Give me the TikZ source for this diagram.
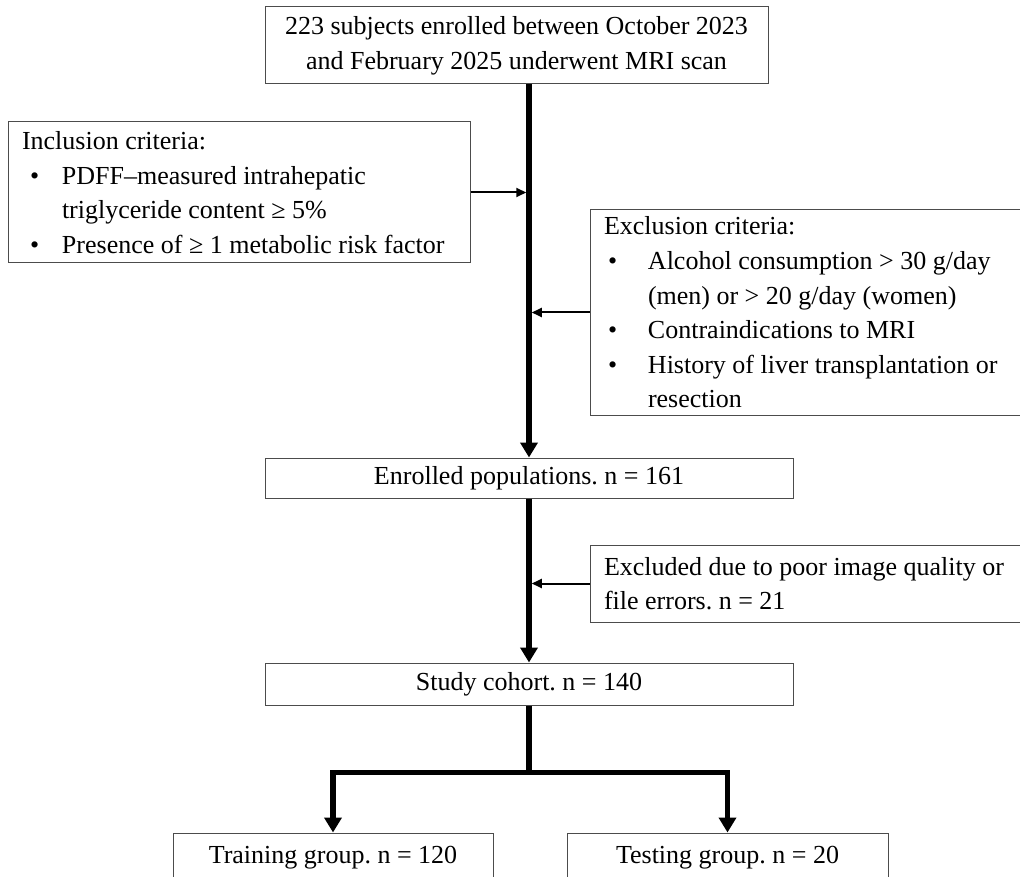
\documentclass[tikz,border=0pt]{standalone}
\usepackage{fontspec}
\setmainfont{Liberation Serif}
\usetikzlibrary{arrows.meta,calc}
\newcommand{\nsp}{\spaceskip=0pt\xspaceskip=0pt\relax}
\begin{document}
\frenchspacing
\begin{tikzpicture}[x=1pt,y=-1pt,
  box/.style={draw=black!70, line width=1pt, rectangle, inner xsep=14pt, inner ysep=0pt,
    font=\fontsize{26}{34.6}\selectfont},
  cbox/.style={box, align=center, inner xsep=2pt},
  lbox/.style={box, align=left},
  mainline/.style={line width=5.5pt, line join=miter},
  mainarrow/.style={mainline, -{Triangle[width=17pt,length=15pt]}},
  thinarrow/.style={line width=2pt, -{Triangle[width=9pt,length=10pt]}}
]
\useasboundingbox (0,0) rectangle (1020,877);
\clip (0,0) rectangle (1020,877);

\node[cbox, minimum width=503pt, minimum height=77pt] (top) at (516.5,45.5)
  {\nsp 223 subjects enrolled between October 2023\\\nsp and February 2025 underwent MRI scan};

\node[lbox, text width=434pt, minimum height=141pt] (inc) at (239,192.5)
  {\nsp Inclusion criteria:\\
   \hspace*{8pt}\makebox[32pt][l]{\textbullet}PDFF–measured intrahepatic\\
   \hspace*{40pt}triglyceride content ≥ 5\%\\
   \hspace*{8pt}\makebox[32pt][l]{\textbullet}Presence of ≥ 1 metabolic risk factor};

\node[lbox, text width=422pt, minimum height=205pt] (exc) at (815,312.5)
  {\nsp Exclusion criteria:\\
   \hspace*{4pt}\makebox[40pt][l]{\textbullet}Alcohol consumption > 30 g/day\\
   \hspace*{44pt}(men) or > 20 g/day (women)\\
   \hspace*{4pt}\makebox[40pt][l]{\textbullet}Contraindications to MRI\\
   \hspace*{4pt}\makebox[40pt][l]{\textbullet}History of liver transplantation or\\
   \hspace*{44pt}resection};

\node[cbox, minimum width=528pt, minimum height=40pt] (enr) at (529,478)
  {\nsp Enrolled populations. n = 161};

\node[lbox, text width=422pt, minimum height=77pt] (excl) at (815,583.5)
  {\nsp Excluded due to poor image quality or\\file errors. n = 21};

\node[cbox, minimum width=528pt, minimum height=42pt] (study) at (529,684)
  {\nsp Study cohort. n = 140};

\node[cbox, minimum width=320pt, minimum height=50pt] (train) at (333,858)
  {\nsp Training group. n = 120};

\node[cbox, minimum width=321pt, minimum height=50pt] (test) at (727.5,858)
  {\nsp Testing group. n = 20};

\coordinate (split) at ($(study.south)+(0,67)$);

\draw[mainarrow] (top.south -| enr.north) -- (enr.north);
\draw[thinarrow] (inc.east) -- ($(inc.east -| enr.north)+(-2.75,0)$);
\draw[thinarrow] (exc.west) -- ($(exc.west -| enr.north)+(2.75,0)$);
\draw[mainarrow] (enr.south) -- (study.north);
\draw[thinarrow] (excl.west) -- ($(excl.west -| enr.north)+(2.75,0)$);
\draw[mainline] (study.south) -- ($(split)+(0,2.75)$);
\draw[mainarrow] (split) -| (train.north);
\draw[mainarrow] (split) -| (test.north);
\end{tikzpicture}
\end{document}
